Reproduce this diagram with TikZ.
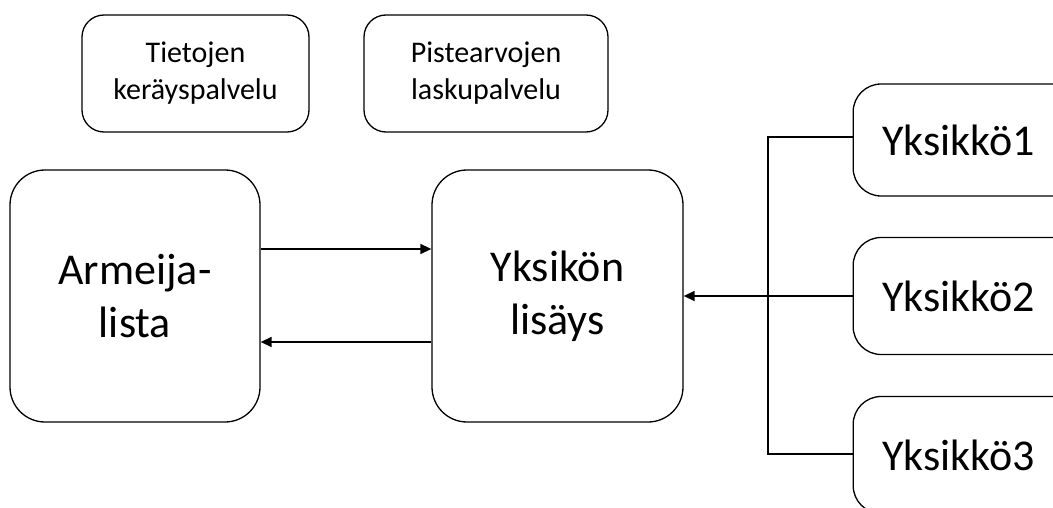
\documentclass[tikz,border=0pt]{standalone}
\usepackage{fontspec}
\setmainfont{Carlito}
\usetikzlibrary{arrows.meta}
\begin{document}
\begin{tikzpicture}[x=1pt,y=-1pt,
  box/.style={draw,line width=1.3pt,rounded corners=#1,inner sep=0pt,align=center},
  box/.default=30pt,
  small/.style={font=\fontsize{30}{37}\selectfont},
  large/.style={font=\fontsize{44}{53}\selectfont},
  conn/.style={line width=1.4pt},
  arr/.style={conn,-{Triangle[length=11pt,width=10pt]}}]
\useasboundingbox (0,0) rectangle (1053,508);
\clip (0,0) rectangle (1053,508);
% top boxes
\node[box=22pt,small,minimum width=227pt,minimum height=117pt] (tk) at (195.5,73.5) {Tietojen\\keräyspalvelu};
\node[box=22pt,small,minimum width=244pt,minimum height=117pt] (pl) at (486,73.5) {Pistearvojen\\laskupalvelu};
% main boxes
\node[box=35pt,large,minimum width=250pt,minimum height=252pt] (al) at (135,296) {Armeija-\\lista};
\node[box=35pt,large,minimum width=251pt,minimum height=252pt] (yl) at (557.5,296) {Yksikön\\lisäys};
% right boxes
\node[box=28pt,large,minimum width=240pt,minimum height=112pt,anchor=west,text width=230pt,align=left] (y1) at (852.5,140) {\hspace*{24pt}Yksikkö1};
\node[box=28pt,large,minimum width=240pt,minimum height=117pt,anchor=west,text width=230pt,align=left] (y2) at (852.5,296) {\hspace*{24pt}Yksikkö2};
\node[box=28pt,large,minimum width=240pt,minimum height=117pt,anchor=west,text width=230pt,align=left] (y3) at (852.5,455) {\hspace*{24pt}Yksikkö3};
% connectors
\draw[arr] (al.east |- 0,249) -- (yl.west |- 0,249);
\draw[arr] (yl.west |- 0,342) -- (al.east |- 0,342);
\coordinate (bt) at (768,137);
\coordinate (bb) at (768,454);
\draw[conn] (y1.west |- bt) -- (bt) -- (bb) -- (y3.west |- bb);
\draw[arr] (y2.west) -- (yl.east |- y2.west);
\end{tikzpicture}
\end{document}
